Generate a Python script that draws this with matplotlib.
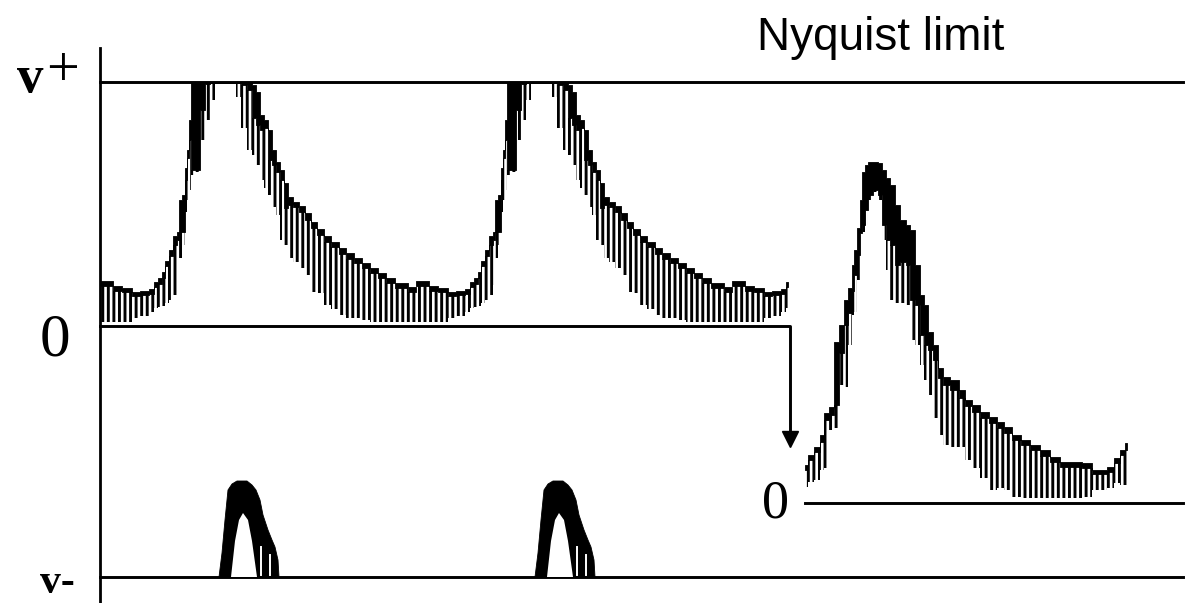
import numpy as np
import matplotlib.pyplot as plt

# Aliased Doppler spectrum sketch (left: wrapped at Nyquist, right: unwrapped)
# units: time and velocity in arbitrary display units, Nyquist = 244

nyquist = 244
beat_starts = [100, 416, 732]
trace_end = 788

# one cardiac cycle of the aliased trace: time, envelope, solid rim, hatch bottom
beat_t = np.array([0, 12, 14, 30, 33, 46, 52, 56, 60, 63, 67, 71, 75, 78, 79, 84, 86, 88, 90,
                   92, 98, 102, 107, 112, 118, 134, 138, 143, 150, 154, 158, 162, 166, 170,
                   174, 178, 182, 186, 190, 196, 202, 208, 213, 220, 227, 235, 242, 250, 258,
                   266, 274, 282, 290, 300, 316])
beat_top = np.array([45, 45, 40, 38, 34, 35, 37, 44, 48, 54, 65, 76, 90, 94, 126, 131, 158, 176, 206,
                     244, 244, 244, 244, 244, 244, 244, 244, 244, 244, 241, 234, 211, 206, 196,
                     176, 164, 156, 143, 129, 124, 120, 113, 104, 97, 90, 84, 78, 73, 68,
                     63, 58, 53, 48, 43, 39])
beat_solid = np.array([40, 40, 35, 34, 30, 31, 32, 39, 42, 48, 60, 70, 81, 86, 94, 94, 146, 168, 186,
                       156, 156, 216, 242, 243, 243, 243, 243, 241, 236, 208, 201, 196, 198, 166,
                       161, 154, 146, 118, 121, 119, 114, 106, 98, 91, 84, 79, 72, 67, 63,
                       58, 53, 48, 43, 38, 34])
beat_hatch = np.array([4, 4, 4, 4, 8, 10, 14, 18, 19, 20, 23, 26, 31, 41, 68, 81, 114, 126, 136,
                       151, 154, 186, 206, 226, 243, 243, 229, 198, 176, 171, 161, 146, 138, 131,
                       119, 111, 86, 81, 68, 64, 58, 51, 34, 33, 21, 17, 11, 8, 8,
                       6, 4, 4, 4, 4, 4])

# wrapped-around part of each peak, shown above v-
alias_t = np.array([119, 122, 125, 128, 132, 137, 147, 152, 156, 160, 163, 168, 172, 175, 178, 179])
alias_v = np.array([0, 24, 57, 87, 93, 96, 96, 92, 87, 77, 62, 47, 37, 30, 17, 0])
alias_inner_t = np.array([131, 135, 139, 143, 148, 152, 157])
alias_inner_v = np.array([0, 36, 57, 64, 57, 36, 0])
alias_gap_t = [161, 170]
alias_gap_v = [30, 22]

# unwrapped spectrum after baseline shift
shift_t = np.array([0, 5, 12, 17, 21, 27, 31, 36, 41, 45, 48, 50, 53, 56, 58, 61, 65, 70, 75, 79,
                    83, 87, 92, 98, 103, 107, 112, 117, 121, 125, 130, 135, 140, 150, 157, 163,
                    170, 180, 188, 195, 202, 212, 220, 230, 240, 250, 260, 270, 283, 290, 298,
                    305, 312, 317, 322])
shift_top = np.array([38, 48, 56, 68, 90, 96, 161, 178, 203, 215, 238, 253, 275, 303, 331, 338, 341,
                      341, 340, 333, 325, 318, 298, 283, 278, 273, 238, 208, 198, 171, 158, 135,
                      126, 123, 113, 103, 98, 91, 86, 81, 76, 68, 63, 58, 53, 46, 41, 41, 40,
                      33, 33, 36, 45, 53, 60])
shift_solid = np.array([33, 43, 51, 61, 83, 88, 98, 150, 178, 190, 212, 228, 248, 270, 278, 293, 308,
                        313, 308, 278, 263, 258, 238, 241, 238, 203, 198, 168, 158, 153, 143, 125,
                        118, 113, 105, 97, 91, 85, 80, 75, 70, 63, 58, 53, 47, 41, 36, 36, 35,
                        29, 29, 31, 40, 48, 53])
shift_hatch = np.array([16, 21, 23, 33, 35, 73, 75, 118, 116, 158, 188, 191, 223, 243, 271, 278, 303,
                        311, 303, 263, 233, 203, 200, 200, 198, 163, 158, 138, 123, 108, 85, 68,
                        58, 56, 56, 43, 35, 25, 13, 15, 13, 6, 5, 5, 5, 5, 5, 5, 6,
                        13, 13, 15, 20, 18, 18])

# layout (display units)
axis_x = 100
zero_y = 0
vminus_y = -251
shift_x0 = 805
shift_y0 = -177
right_edge = 1183

plt.rcParams['hatch.linewidth'] = 2.1

fig = plt.figure(figsize=(11.85, 6.03), dpi=100)
ax = fig.add_axes([0, 0, 1, 1])
ax.set_xlim(0, 1185)
ax.set_ylim(-277, 326)
ax.axis('off')

lw = 2.1

# axes and reference lines
ax.plot([axis_x, axis_x], [278, -277], color='black', lw=2.0)
ax.plot([axis_x, right_edge], [nyquist, nyquist], color='black', lw=lw)
ax.plot([axis_x, trace_end + 2, trace_end + 2], [zero_y, zero_y, -107], color='black', lw=lw)
ax.plot([trace_end + 2], [-113], marker='v', markersize=11, color='black')
ax.plot([shift_x0, right_edge], [shift_y0, shift_y0], color='black', lw=lw)
ax.plot([axis_x, right_edge], [vminus_y, vminus_y], color='black', lw=lw)


def draw_spectrum(x, top, solid, hatch, base):
    # staircase edges, like the pixelated spectral display
    ax.fill_between(x, base + top, base + solid, color='black', linewidth=0.6, step='mid')
    ax.fill_between(x, base + solid, base + hatch, facecolor='none', edgecolor='black',
                    hatch='|||', linewidth=0, step='mid')


# aliased trace, cut at the end of the display
for start in beat_starts:
    keep = start + beat_t <= trace_end
    draw_spectrum(start + beat_t[keep], beat_top[keep], beat_solid[keep], beat_hatch[keep], zero_y)
    if start + alias_t[-1] <= trace_end:
        ax.fill(start + alias_t, vminus_y + alias_v, color='black', linewidth=0.6, zorder=2)
        ax.fill(start + alias_inner_t, vminus_y + alias_inner_v, color='white', linewidth=0,
                zorder=3)
        for gt, gv in zip(alias_gap_t, alias_gap_v):
            ax.plot([start + gt, start + gt], [vminus_y + 2, vminus_y + gv], color='white',
                    lw=1.4, zorder=3)

# unwrapped spectrum
draw_spectrum(shift_x0 + shift_t, shift_top, shift_solid, shift_hatch, shift_y0)

# labels
serif = 'Liberation Serif'
ax.text(17, 234, 'v', fontsize=38, fontweight='bold', family=serif, va='baseline', ha='left')
ax.text(46, 240, '+', fontsize=42, family=serif, va='baseline', ha='left')
ax.text(40, -267, 'v-', fontsize=30, fontweight='bold', family=serif, va='baseline', ha='left')
ax.text(55, -29, '0', fontsize=44, family=serif, va='baseline', ha='center')
ax.text(776, -191, '0', fontsize=39, family=serif, va='baseline', ha='center')
ax.text(757, 276, 'Nyquist limit', fontsize=33, family='Liberation Sans', va='baseline', ha='left')

plt.savefig('out.png', dpi=100)
